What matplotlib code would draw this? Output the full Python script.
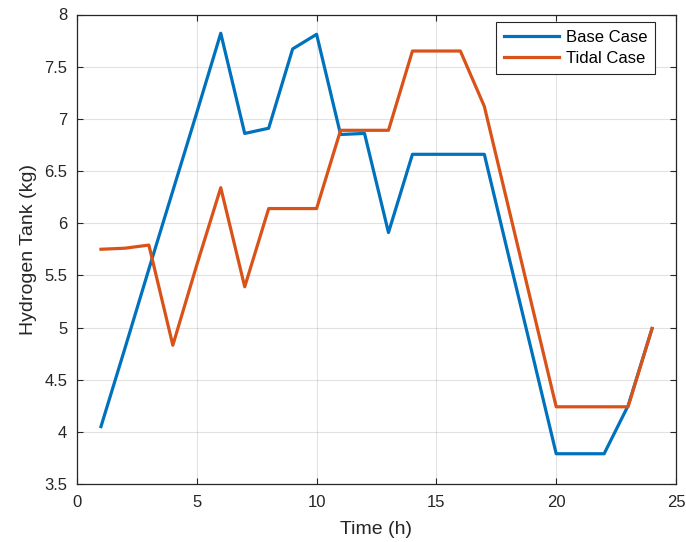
import matplotlib
matplotlib.use("Agg")
import matplotlib.pyplot as plt

# hourly hydrogen tank level
hours = list(range(1, 25))
base_case = [4.05, 4.80, 5.56, 6.31, 7.06, 7.82, 6.86, 6.91, 7.67, 7.81, 6.85, 6.86,
             5.91, 6.66, 6.66, 6.66, 6.66, 5.70, 4.75, 3.79, 3.79, 3.79, 4.25, 4.99]
tidal_case = [5.75, 5.76, 5.79, 4.83, 5.60, 6.34, 5.39, 6.14, 6.14, 6.14, 6.89, 6.89,
              6.89, 7.65, 7.65, 7.65, 7.12, 6.16, 5.20, 4.24, 4.24, 4.24, 4.24, 4.99]

plt.rcParams['font.family'] = ['Liberation Sans', 'DejaVu Sans']

fig = plt.figure(figsize=(6.86, 5.42), dpi=100)
ax = fig.add_axes([77 / 686, 1 - 484 / 542, 599 / 686, 469.5 / 542])

ax.plot(hours, base_case, color='#0072BD', linewidth=2.3, label='Base Case')
ax.plot(hours, tidal_case, color='#D95319', linewidth=2.3, label='Tidal Case')

ax.set_xlim(0, 25)
ax.set_ylim(3.5, 8)
ax.set_xticks([0, 5, 10, 15, 20, 25])
ax.set_yticks([3.5, 4, 4.5, 5, 5.5, 6, 6.5, 7, 7.5, 8])
ax.set_yticklabels(['3.5', '4', '4.5', '5', '5.5', '6', '6.5', '7', '7.5', '8'])
ax.grid(True, color='#262626', alpha=0.13, linewidth=0.8)
ax.set_axisbelow(True)
ax.tick_params(direction='in', top=True, right=True, labelsize=12, length=4,
               color='#262626', labelcolor='#262626')
ax.tick_params(axis='y', pad=7)
ax.tick_params(axis='x', pad=8)
for s in ax.spines.values():
    s.set_color('#262626')
    s.set_linewidth(0.9)

ax.set_xlabel('Time (h)', fontsize=14, color='#262626', labelpad=8)
ax.set_ylabel('Hydrogen Tank (kg)', fontsize=14, color='#262626', labelpad=5)

leg = ax.legend(loc='upper right', bbox_to_anchor=(0.965, 0.984), borderaxespad=0,
                fontsize=12, fancybox=False, framealpha=1, edgecolor='#262626',
                handlelength=3.3, handletextpad=0.45, borderpad=0.45, labelspacing=0.4)
leg.get_frame().set_linewidth(0.8)

fig.savefig('out.png', dpi=100)
